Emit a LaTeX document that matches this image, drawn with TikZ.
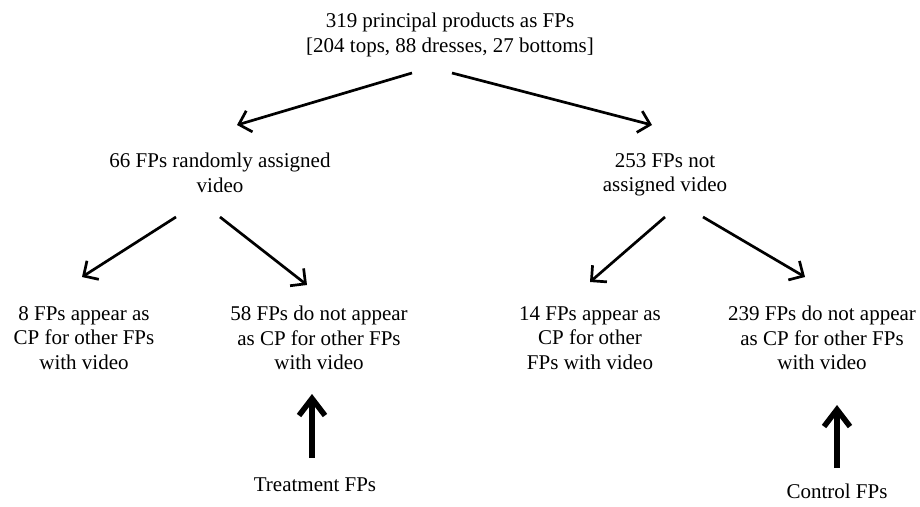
\documentclass[tikz,border=0pt]{standalone}
\usepackage{fontspec}
\setmainfont{Liberation Serif}
\usetikzlibrary{arrows.meta}
\begin{document}
\begin{tikzpicture}[x=1pt,y=-1pt,
  label/.style={anchor=north, inner sep=0pt, align=center,
    font=\fontsize{21}{24.5}\selectfont},
  tag/.style={anchor=base, inner sep=0pt, font=\fontsize{21}{24.5}\selectfont},
  branch/.style={line width=2.7pt, -{Straight Barb[length=11pt,width=22pt]}},
  pointer/.style={line width=5.5pt, -{Straight Barb[length=17pt,width=26pt]}}]
\useasboundingbox (0,0) rectangle (920,506);

% nodes
\node[label] (top) at (450,13) {319 principal products as FPs\\\relax[204 tops, 88 dresses, 27 bottoms]};
\node[label] (vid) at (220,153) {66 FPs randomly assigned\\video};
\node[label] (novid) at (665,153) {253 FPs not\\assigned video};
\node[label] (vidcp) at (84,306) {8 FPs appear as\\CP for other FPs\\with video};
\node[label] (vidno) at (319,306) {58 FPs do not appear\\as CP for other FPs\\with video};
\node[label] (novidcp) at (590,306) {14 FPs appear as\\CP for other\\FPs with video};
\node[label] (novidno) at (822,306) {239 FPs do not appear\\as CP for other FPs\\with video};
\node[tag] (treat) at (315,491) {Treatment FPs};
\node[tag] (ctrl) at (837,498) {Control FPs};

% branching arrows
\draw[branch] ([shift={(-38,60)}]top.north) -- ([shift={(17,-28)}]vid.north);
\draw[branch] ([shift={(2,60)}]top.north) -- ([shift={(-13,-28)}]novid.north);
\draw[branch] ([shift={(-44,64)}]vid.north) -- ([shift={(-2,-29)}]vidcp.north);
\draw[branch] ([shift={(0,64)}]vid.north) -- ([shift={(-12,-21)}]vidno.north);
\draw[branch] ([shift={(0,64)}]novid.north) -- ([shift={(0,-24)}]novidcp.north);
\draw[branch] ([shift={(38,64)}]novid.north) -- ([shift={(-17,-29)}]novidno.north);

% group markers
\draw[pointer] ([shift={(-3,-33)}]treat.base) -- ([shift={(-7,88)}]vidno.north);
\draw[pointer] ([shift={(0,-30)}]ctrl.base) -- ([shift={(15,99)}]novidno.north);
\end{tikzpicture}
\end{document}
